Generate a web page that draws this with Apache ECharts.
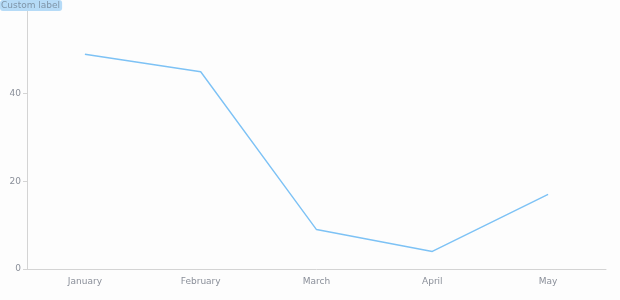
<!DOCTYPE html>
<html><head><meta charset="utf-8">
<script src="https://cdn.jsdelivr.net/npm/echarts@6/dist/echarts.min.js"></script>
<style>html,body{margin:0;padding:0;background:#fdfdfd}#c{width:620px;height:300px}</style>
</head><body><div id="c"></div>
<script>
const categories = ['January', 'February', 'March', 'April', 'May'];
const values = [49, 45, 9, 4, 17];
const yAxisName = 'Custom label';

const chart = echarts.init(document.getElementById('c'));
chart.setOption({
  backgroundColor: '#fdfdfd',
  animation: false,
  title: {
    text: yAxisName,
    left: 0, top: 0,
    padding: [1, 2, 1, 1],
    backgroundColor: '#b6dbf7',
    borderRadius: 3,
    textStyle: { color: '#7f95a8', fontSize: 9, fontWeight: 'normal', fontFamily: 'DejaVu Sans' }
  },
  grid: { left: 27, right: 14, top: 6, bottom: 31, containLabel: false, outerBoundsMode: 'none' },
  textStyle: { fontFamily: 'DejaVu Sans' },
  xAxis: {
    type: 'category',
    data: categories,
    axisLine: { lineStyle: { color: '#d4d4d4' } },
    axisTick: { lineStyle: { color: '#d4d4d4' } },
    axisLabel: { color: '#8a8f99', fontSize: 9, margin: 8 }
  },
  yAxis: {
    type: 'value',
    min: 0, max: 60, interval: 20,
    axisLine: { show: true, lineStyle: { color: '#d4d4d4', width: 1 } },
    axisTick: { show: true, length: 4, lineStyle: { color: '#d4d4d4' } },
    splitLine: { show: false },
    axisLabel: { color: '#8a8f99', fontSize: 9, margin: 6, showMaxLabel: false }
  },
  series: [{
    type: 'line',
    data: values,
    showSymbol: false,
    lineStyle: { color: '#7dc2f5', width: 1.4 }
  }]
});
</script></body></html>
